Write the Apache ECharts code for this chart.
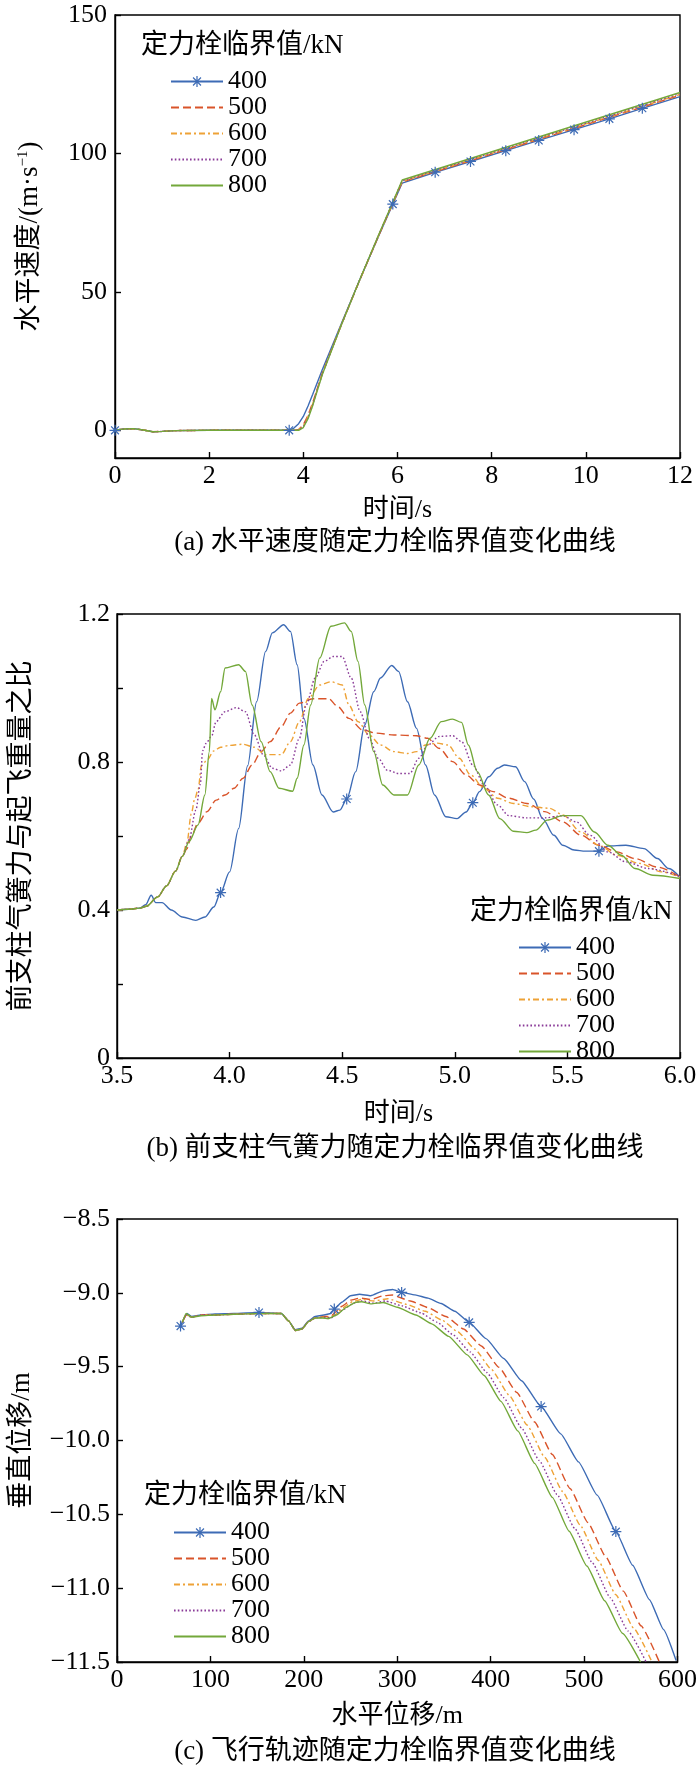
<!DOCTYPE html>
<html><head><meta charset="utf-8">
<script src="https://cdn.jsdelivr.net/npm/echarts@6/dist/echarts.min.js"></script>
<style>html,body{margin:0;padding:0;background:#fff}#c{width:700px;height:1772px}</style>
</head><body><div id="c"></div><script>
// ---------------- data ----------------
const seriesNames = ['400','500','600','700','800'];
const legendTitle = '定力栓临界值/kN';

// (a) horizontal velocity vs time
const a400 = [[0,0],[0.2,0.5],[0.4,0.6],[0.6,0.1],[0.8,-0.5],[1.0,-0.4],[1.3,-0.1],[2.0,0],[3.0,0],[3.7,0],[3.8,0.8],[3.9,2.4],[4.0,5.0],[4.1,8.8],[4.2,13.0],[4.4,21.8],[4.8,38.2],[5.2,54.5],[5.6,70.2],[5.9,81.7],[6.1,89.3],[6.8,93.2],[7.55,97.1],[8.3,101.0],[9.0,104.7],[9.75,108.6],[10.5,112.5],[11.2,116.3],[12,120.5]];
const a400Marks = [0,3.7,5.9,6.8,7.55,8.3,9.0,9.75,10.5,11.2];
const a500 = [[0,0],[0.2,0.5],[0.4,0.6],[0.6,0.1],[0.8,-0.5],[1.0,-0.4],[1.3,-0.1],[2.0,0],[3.0,0],[3.8,0],[3.9,0.3],[4.0,2.0],[4.1,5.5],[4.2,10.0],[4.4,20.5],[4.8,37.8],[5.2,54.3],[5.6,70.3],[5.9,82.0],[6.1,89.7],[12,121.0]];
const a600 = [[0,0],[0.2,0.5],[0.4,0.6],[0.6,0.1],[0.8,-0.5],[1.0,-0.4],[1.3,-0.1],[2.0,0],[3.0,0],[3.8,0],[3.9,0.2],[4.0,1.6],[4.1,5.0],[4.2,9.6],[4.4,20.3],[4.8,37.8],[5.2,54.4],[5.6,70.4],[5.9,82.2],[6.1,89.9],[12,121.3]];
const a700 = [[0,0],[0.2,0.5],[0.4,0.6],[0.6,0.1],[0.8,-0.5],[1.0,-0.4],[1.3,-0.1],[2.0,0],[3.0,0],[3.8,0],[3.9,0.1],[4.0,1.3],[4.1,4.6],[4.2,9.3],[4.4,20.2],[4.8,37.8],[5.2,54.5],[5.6,70.5],[5.9,82.3],[6.1,90.1],[12,121.6]];
const a800 = [[0,0],[0.2,0.5],[0.4,0.6],[0.6,0.1],[0.8,-0.5],[1.0,-0.4],[1.3,-0.1],[2.0,0],[3.0,0],[3.8,0],[3.9,0],[4.0,1.0],[4.1,4.2],[4.2,9.0],[4.4,20.0],[4.8,37.8],[5.2,54.5],[5.6,70.6],[5.9,82.4],[6.1,90.4],[12,122.0]];

// (b) nose gear air-spring force / take-off weight vs time
const b400 = [[3.5,0.40],[3.55,0.402],[3.6,0.405],[3.627,0.414],[3.652,0.44],[3.672,0.42],[3.70,0.42],[3.741,0.40],[3.79,0.381],[3.85,0.372],[3.89,0.381],[3.93,0.408],[3.96,0.447],[4.0,0.503],[4.04,0.62],[4.08,0.79],[4.12,0.963],[4.16,1.099],[4.19,1.149],[4.24,1.171],[4.27,1.153],[4.30,1.063],[4.33,0.918],[4.37,0.792],[4.41,0.711],[4.46,0.665],[4.49,0.67],[4.52,0.70],[4.56,0.774],[4.60,0.90],[4.64,0.99],[4.67,1.027],[4.72,1.061],[4.75,1.045],[4.79,0.963],[4.83,0.891],[4.87,0.792],[4.91,0.711],[4.96,0.652],[5.01,0.647],[5.05,0.665],[5.08,0.69],[5.11,0.72],[5.15,0.76],[5.19,0.783],[5.22,0.792],[5.27,0.787],[5.31,0.747],[5.35,0.70],[5.39,0.647],[5.44,0.602],[5.48,0.575],[5.53,0.562],[5.58,0.559],[5.64,0.559],[5.68,0.573],[5.76,0.575],[5.84,0.566],[5.90,0.539],[5.95,0.512],[6.0,0.488]];
const b400Marks = [3.96,4.52,5.08,5.64];
const b500 = [[3.5,0.40],[3.55,0.402],[3.6,0.405],[3.63,0.41],[3.68,0.435],[3.72,0.465],[3.76,0.505],[3.79,0.545],[3.81,0.565],[3.83,0.60],[3.86,0.635],[3.90,0.666],[3.94,0.697],[3.98,0.711],[4.02,0.729],[4.06,0.756],[4.10,0.792],[4.14,0.828],[4.18,0.855],[4.23,0.896],[4.27,0.932],[4.31,0.959],[4.37,0.971],[4.44,0.971],[4.48,0.95],[4.53,0.918],[4.59,0.887],[4.65,0.878],[4.73,0.873],[4.83,0.871],[4.88,0.864],[4.93,0.837],[4.99,0.801],[5.05,0.765],[5.11,0.738],[5.17,0.72],[5.24,0.702],[5.32,0.688],[5.40,0.666],[5.48,0.638],[5.56,0.602],[5.64,0.575],[5.72,0.557],[5.80,0.539],[5.90,0.516],[6.0,0.489]];
const b600 = [[3.5,0.40],[3.55,0.402],[3.6,0.405],[3.63,0.41],[3.68,0.435],[3.72,0.465],[3.76,0.505],[3.79,0.545],[3.81,0.58],[3.83,0.66],[3.845,0.70],[3.86,0.725],[3.875,0.79],[3.90,0.805],[3.93,0.83],[3.96,0.84],[4.0,0.845],[4.06,0.848],[4.11,0.84],[4.16,0.82],[4.23,0.82],[4.27,0.855],[4.31,0.909],[4.35,0.972],[4.40,1.008],[4.45,1.017],[4.50,1.008],[4.53,0.954],[4.57,0.909],[4.62,0.873],[4.67,0.846],[4.73,0.828],[4.79,0.823],[4.83,0.828],[4.87,0.846],[4.92,0.851],[4.97,0.846],[5.02,0.81],[5.07,0.765],[5.13,0.729],[5.19,0.702],[5.26,0.688],[5.34,0.679],[5.42,0.675],[5.48,0.657],[5.56,0.611],[5.64,0.575],[5.72,0.548],[5.82,0.526],[5.92,0.503],[6.0,0.489]];
const b700 = [[3.5,0.40],[3.55,0.402],[3.6,0.405],[3.63,0.41],[3.68,0.435],[3.72,0.465],[3.76,0.505],[3.79,0.545],[3.82,0.59],[3.85,0.67],[3.87,0.74],[3.88,0.83],[3.895,0.85],[3.92,0.87],[3.94,0.909],[3.98,0.936],[4.03,0.947],[4.07,0.936],[4.11,0.873],[4.15,0.819],[4.19,0.783],[4.23,0.776],[4.27,0.792],[4.31,0.864],[4.34,0.954],[4.38,1.027],[4.42,1.072],[4.46,1.085],[4.50,1.085],[4.54,1.027],[4.58,0.936],[4.62,0.864],[4.66,0.81],[4.70,0.778],[4.75,0.769],[4.80,0.769],[4.84,0.81],[4.88,0.846],[4.93,0.869],[4.99,0.871],[5.03,0.855],[5.08,0.792],[5.13,0.738],[5.19,0.684],[5.24,0.655],[5.32,0.649],[5.40,0.649],[5.48,0.655],[5.54,0.638],[5.60,0.602],[5.68,0.557],[5.76,0.53],[5.86,0.512],[6.0,0.491]];
const b800 = [[3.5,0.40],[3.55,0.402],[3.6,0.405],[3.63,0.41],[3.68,0.435],[3.72,0.465],[3.76,0.505],[3.79,0.545],[3.82,0.585],[3.86,0.63],[3.89,0.711],[3.91,0.828],[3.92,0.972],[3.935,0.941],[3.96,0.99],[3.98,1.054],[4.04,1.063],[4.07,1.045],[4.10,0.954],[4.14,0.855],[4.18,0.774],[4.22,0.729],[4.28,0.721],[4.30,0.756],[4.33,0.846],[4.36,0.954],[4.40,1.081],[4.45,1.167],[4.51,1.176],[4.54,1.153],[4.57,1.072],[4.60,0.954],[4.64,0.828],[4.68,0.738],[4.73,0.711],[4.79,0.711],[4.84,0.792],[4.89,0.864],[4.94,0.909],[4.99,0.916],[5.03,0.907],[5.06,0.846],[5.10,0.774],[5.15,0.711],[5.20,0.647],[5.26,0.613],[5.32,0.609],[5.36,0.616],[5.41,0.643],[5.48,0.655],[5.56,0.655],[5.62,0.611],[5.68,0.575],[5.74,0.548],[5.80,0.512],[5.88,0.494],[6.0,0.485]];

// (c) flight trajectory: vertical vs horizontal displacement
const c400 = [[68,-9.225],[72,-9.17],[75,-9.14],[80,-9.16],[90,-9.15],[105,-9.143],[125,-9.14],[152,-9.133],[176,-9.14],[183.7,-9.19],[190.8,-9.25],[198,-9.24],[205,-9.19],[212,-9.16],[221.6,-9.15],[228.8,-9.14],[232.6,-9.11],[240.6,-9.064],[250,-9.02],[259.6,-9.01],[271.5,-9.02],[285.7,-8.985],[295,-8.977],[304.7,-8.997],[319,-9.014],[333,-9.036],[347,-9.072],[361.6,-9.125],[377,-9.2],[395,-9.31],[414,-9.445],[433,-9.595],[454,-9.77],[475,-9.955],[494,-10.145],[514,-10.37],[534,-10.617],[552,-10.845],[570,-11.078],[585,-11.28],[598.5,-11.49]];
const c400Marks = [68,152,232.6,304.7,377,454,534];
const c500 = [[70,-9.2],[74,-9.15],[80,-9.165],[90,-9.15],[105,-9.15],[125,-9.145],[152,-9.14],[176,-9.14],[183.7,-9.19],[190.8,-9.255],[198,-9.245],[205,-9.195],[212,-9.17],[222,-9.16],[229,-9.16],[234,-9.13],[241,-9.09],[250,-9.05],[260,-9.035],[272,-9.045],[285,-9.02],[295,-9.015],[314,-9.055],[333,-9.1],[352,-9.16],[371,-9.245],[390,-9.36],[409,-9.505],[428,-9.675],[447,-9.875],[466,-10.095],[485,-10.325],[504,-10.555],[523,-10.785],[542,-11.02],[561,-11.255],[580.6,-11.5]];
const c600 = [[70,-9.2],[74,-9.15],[80,-9.165],[90,-9.15],[105,-9.15],[125,-9.145],[152,-9.14],[176,-9.14],[183.7,-9.19],[190.8,-9.255],[198,-9.245],[205,-9.195],[212,-9.17],[222,-9.165],[229,-9.165],[233,-9.15],[242,-9.1],[252,-9.06],[262,-9.045],[275,-9.055],[290,-9.04],[310,-9.078],[330,-9.125],[348,-9.185],[365,-9.265],[383,-9.38],[401,-9.52],[420,-9.695],[439,-9.895],[458,-10.115],[477,-10.345],[496,-10.575],[515,-10.81],[534,-11.045],[553,-11.27],[572.7,-11.5]];
const c700 = [[70,-9.2],[74,-9.15],[80,-9.165],[90,-9.15],[105,-9.15],[125,-9.145],[152,-9.14],[176,-9.14],[183.7,-9.19],[190.8,-9.255],[198,-9.245],[205,-9.195],[212,-9.17],[222,-9.165],[229,-9.17],[233,-9.155],[243,-9.11],[253,-9.07],[262,-9.055],[275,-9.07],[287,-9.055],[305,-9.088],[325,-9.135],[343,-9.2],[360,-9.285],[378,-9.4],[396,-9.54],[414,-9.71],[433,-9.915],[452,-10.135],[471,-10.365],[490,-10.595],[509,-10.83],[528,-11.065],[547,-11.29],[566.4,-11.5]];
const c800 = [[70,-9.2],[74,-9.14],[80,-9.165],[90,-9.155],[105,-9.15],[125,-9.145],[152,-9.14],[176,-9.14],[183.7,-9.19],[190.8,-9.255],[198,-9.245],[205,-9.195],[212,-9.17],[220,-9.17],[226,-9.175],[235,-9.15],[245,-9.1],[255,-9.065],[262,-9.06],[272,-9.075],[285,-9.065],[300,-9.098],[320,-9.15],[337,-9.21],[355,-9.295],[375,-9.42],[393,-9.56],[411,-9.735],[429,-9.935],[447,-10.155],[466,-10.385],[484,-10.615],[503,-10.85],[522,-11.085],[541,-11.305],[560.4,-11.5]];

const captions = ['(a) 水平速度随定力栓临界值变化曲线','(b) 前支柱气簧力随定力栓临界值变化曲线','(c) 飞行轨迹随定力栓临界值变化曲线'];
const xNames = ['时间/s','时间/s','水平位移/m'];
const yNames = ['水平速度/(m·s{sup|−1})','前支柱气簧力与起飞重量之比','垂直位移/m'];

// ---------------- styling ----------------
const FONT = '"Liberation Serif","Times New Roman","Noto Sans CJK SC",serif';
const styles = {
  '400': {color:'#3d6bb5', type:'solid'},
  '500': {color:'#d9542a', type:[8,4]},
  '600': {color:'#eea236', type:[6,3,2,3]},
  '700': {color:'#8a3b98', type:[1.6,2.2]},
  '800': {color:'#73a83a', type:'solid'}
};
// asterisk symbol built from 4 thin bars
function starPath(){
  const L=10, w=1.1; let s='path://';
  [90,0,45,135].forEach(deg=>{
    const t=deg*Math.PI/180, dx=Math.cos(t), dy=Math.sin(t), nx=-dy, ny=dx;
    const P=[[L*dx+w*nx,L*dy+w*ny],[L*dx-w*nx,L*dy-w*ny],[-L*dx-w*nx,-L*dy-w*ny],[-L*dx+w*nx,-L*dy+w*ny]];
    s+='M'+P.map(p=>p[0].toFixed(3)+','+p[1].toFixed(3)).join('L')+'Z';
  });
  return s;
}
const STAR = starPath();

function mkData(pts, marks){
  return pts.map(p => (marks && marks.some(m=>Math.abs(m-p[0])<1e-9)) ? {value:p} : {value:p, symbol:'none'});
}
function mkSeries(name, pts, marks, gi, smooth){
  const st = styles[name];
  return {type:'line', name, xAxisIndex:gi, yAxisIndex:gi, data:mkData(pts,marks),
    showSymbol:true, showAllSymbol:true, symbol: name==='400'?STAR:'none', symbolSize:11,
    smooth: smooth, smoothMonotone: smooth? 'x': undefined,
    lineStyle:{color:st.color, width:1.4, type:st.type},
    itemStyle:{color:st.color}, emphasis:{disabled:true}, animation:false};
}

const grids = [
  {left:115, top:15, width:565, height:443},
  {left:115, top:614, width:565, height:444},
  {left:115, top:1219, width:565, height:443}
].map(g=>Object.assign(g,{show:true, borderColor:'#000', borderWidth:1.4, backgroundColor:'transparent', containLabel:false}));

const txt = {color:'#000', fontSize:26, fontFamily:FONT};
function axisBase(){
  return {axisLine:{show:true, onZero:false, lineStyle:{color:'#000', width:1.4}},
    axisTick:{show:true, inside:true, length:6, lineStyle:{color:'#000', width:1.4}},
    splitLine:{show:false}, nameLocation:'middle', nameTextStyle:Object.assign({},txt)};
}
const fmt1 = v => v.toFixed(1).replace('-', '−');

const xAxes = [
  Object.assign(axisBase(), {type:'value', gridIndex:0, min:0, max:12, interval:2, name:xNames[0], nameGap:39,
    axisLabel:Object.assign({margin:5}, txt)}),
  Object.assign(axisBase(), {type:'value', gridIndex:1, min:3.5, max:6.0, interval:0.5, name:xNames[1], nameGap:43,
    axisLabel:Object.assign({margin:5, formatter:fmt1}, txt)}),
  Object.assign(axisBase(), {type:'value', gridIndex:2, min:0, max:600, interval:100, name:xNames[2], nameGap:41,
    axisLabel:Object.assign({margin:5}, txt)})
];
const yAxes = [
  Object.assign(axisBase(), {type:'value', gridIndex:0, min:-10, max:150, name:yNames[0], nameGap:72,
    axisTick:{show:true, inside:true, length:6, customValues:[0,50,100,150], lineStyle:{color:'#000', width:1.4}},
    axisLabel:Object.assign({margin:8, customValues:[0,50,100,150]}, txt),
    nameTextStyle:Object.assign({}, txt, {fontSize:27, rich:{sup:{fontSize:15, fontFamily:FONT, color:'#000', verticalAlign:'top', lineHeight:27}}})}),
  Object.assign(axisBase(), {type:'value', gridIndex:1, min:0, max:1.2, interval:0.2, name:yNames[1], nameGap:82,
    nameTextStyle:Object.assign({}, txt, {fontSize:27}),
    axisLabel:Object.assign({margin:7, formatter:v=>{const k=Math.round(v*10); return (k%4===0)? (k===0?'0':(k/10).toFixed(1)) : '';}}, txt)}),
  Object.assign(axisBase(), {type:'value', gridIndex:2, min:-11.5, max:-8.5, interval:0.5, name:yNames[2], nameGap:82,
    nameTextStyle:Object.assign({}, txt, {fontSize:27}),
    axisLabel:Object.assign({margin:7, formatter:fmt1}, txt)})
];

const series = [
  mkSeries('400', a400, a400Marks, 0, false),
  mkSeries('500', a500, null, 0, false),
  mkSeries('600', a600, null, 0, false),
  mkSeries('700', a700, null, 0, false),
  mkSeries('800', a800, null, 0, false),
  mkSeries('400', b400, b400Marks, 1, 0.3),
  mkSeries('500', b500, null, 1, 0.3),
  mkSeries('600', b600, null, 1, 0.3),
  mkSeries('700', b700, null, 1, 0.3),
  mkSeries('800', b800, null, 1, 0.3),
  mkSeries('400', c400, c400Marks, 2, 0.15),
  mkSeries('500', c500, null, 2, 0.15),
  mkSeries('600', c600, null, 2, 0.15),
  mkSeries('700', c700, null, 2, 0.15),
  mkSeries('800', c800, null, 2, 0.15)
];

const hidden = {color:'rgba(0,0,0,0)', borderColor:'rgba(0,0,0,0)', borderWidth:0, opacity:0};
function mkLegend(left, top){
  return {orient:'vertical', left, top, padding:0, itemGap:0, itemWidth:52, itemHeight:14,
    selectedMode:false,
    data:seriesNames.map(n => n==='400' ? {name:n} : {name:n, itemStyle:hidden}),
    textStyle:{color:'#000', fontSize:26, fontFamily:FONT, lineHeight:23.3}};
}
const legendPos = [[170,68.5],[518,934.5],[173,1519.5]];
const legendTitlePos = [[141,47],[470,913],[144,1497]];
const captionY = [543,1149,1752];

const graphics = [];
legendTitlePos.forEach(p=>graphics.push({type:'text', left:p[0], top:p[1]-15, silent:true,
  style:{text:legendTitle, fontSize:27, fontFamily:FONT, fill:'#000'}}));
captions.forEach((c,i)=>graphics.push({type:'text', x:395, y:captionY[i], silent:true,
  style:{text:c, fontSize:27, fontFamily:FONT, fill:'#000', textAlign:'center', textVerticalAlign:'middle'}}));

const chart = echarts.init(document.getElementById('c'), null, {renderer:'canvas'});
chart.setOption({
  animation:false, backgroundColor:'#fff',
  grid:grids, xAxis:xAxes, yAxis:yAxes, series,
  legend:legendPos.map(p=>mkLegend(p[0],p[1])),
  graphic:graphics
});
</script></body></html>
